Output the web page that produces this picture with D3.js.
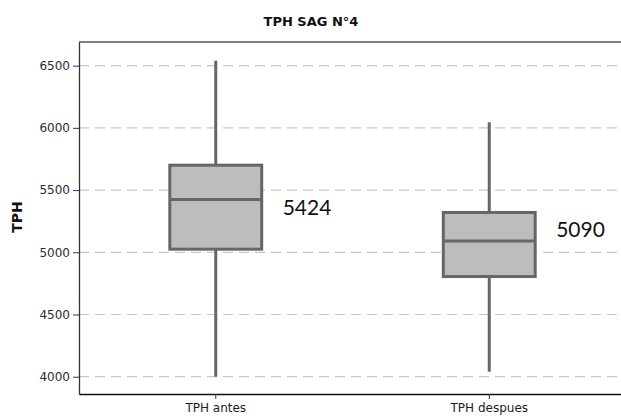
<!DOCTYPE html>
<html><head><meta charset="utf-8">
<script src="https://cdn.jsdelivr.net/npm/d3@7"></script>
<style>body{margin:0;background:#fff;} svg{display:block;}</style>
</head><body>
<svg id="c" width="621" height="416"></svg>
<script>
const categories = ["TPH antes", "TPH despues"];
const whiskerLow = [4000, 4040];
const q1 = [5025, 4805];
const median = [5424, 5090];
const q3 = [5700, 5320];
const whiskerHigh = [6540, 6045];
const labelValues = ["5424", "5090"];
const labelAt = [5355, 5185];
const yTicks = [4000, 4500, 5000, 5500, 6000, 6500];

const svg = d3.select("#c");
const m = {left: 79, top: 42, right: 626, bottom: 394};
const x = d3.scaleBand().domain(categories).range([m.left, m.right]).padding(0);
const y = d3.scaleLinear().domain([3861, 6690]).range([m.bottom, m.top]);

// grid
svg.append("g").selectAll("line").data(yTicks).join("line")
  .attr("x1", m.left).attr("x2", m.right)
  .attr("y1", d => y(d)).attr("y2", d => y(d))
  .attr("stroke", "#c8c8c8").attr("stroke-width", 1.2).attr("stroke-dasharray", "10,6");

// frame
svg.append("line").attr("x1", m.left).attr("x2", m.right).attr("y1", m.top).attr("y2", m.top)
  .attr("stroke", "#555").attr("stroke-width", 1.6);

// y axis
const ya = svg.append("g").attr("transform", `translate(${m.left},0)`)
  .call(d3.axisLeft(y).tickValues(yTicks).tickFormat(d3.format("d")).tickSize(6).tickPadding(3).tickSizeOuter(0));
ya.select(".domain").attr("stroke", "#333").attr("stroke-width", 1.3);
ya.selectAll(".tick line").attr("stroke", "#333");
ya.selectAll("text").attr("font-family", "DejaVu Sans").attr("font-size", 12).attr("fill", "#2a2a3a");

// x axis
const xa = svg.append("g").attr("transform", `translate(0,${m.bottom})`)
  .call(d3.axisBottom(x).tickSize(5).tickPadding(4).tickSizeOuter(0));
xa.select(".domain").attr("stroke", "#111").attr("stroke-width", 1.5);
xa.selectAll(".tick line").attr("stroke", "#333");
xa.selectAll("text").attr("font-family", "DejaVu Sans").attr("font-size", 12).attr("fill", "#1a1a2a");

const bw = x.bandwidth() * 0.336;
const g = svg.append("g");
categories.forEach((c, i) => {
  const cx = x(c) + x.bandwidth() / 2;
  g.append("line").attr("x1", cx).attr("x2", cx).attr("y1", y(whiskerLow[i])).attr("y2", y(q1[i]))
    .attr("stroke", "#666").attr("stroke-width", 3);
  g.append("line").attr("x1", cx).attr("x2", cx).attr("y1", y(q3[i])).attr("y2", y(whiskerHigh[i]))
    .attr("stroke", "#666").attr("stroke-width", 3);
  g.append("rect").attr("x", cx - bw / 2).attr("width", bw)
    .attr("y", y(q3[i])).attr("height", y(q1[i]) - y(q3[i]))
    .attr("fill", "#bdbdbd").attr("stroke", "#666").attr("stroke-width", 3);
  g.append("line").attr("x1", cx - bw / 2).attr("x2", cx + bw / 2).attr("y1", y(median[i])).attr("y2", y(median[i]))
    .attr("stroke", "#666").attr("stroke-width", 3);
  g.append("text").attr("x", cx + bw / 2 + 21).attr("y", y(labelAt[i]))
    .attr("dy", "0.35em").attr("font-family", "Lato").attr("font-size", 21)
    .attr("fill", "#111").text(labelValues[i]);
});

svg.append("text").attr("x", 311).attr("y", 26).attr("text-anchor", "middle")
  .attr("font-family", "DejaVu Sans").attr("font-weight", "bold").attr("font-size", 13)
  .attr("fill", "#111").text("TPH SAG N°4");

svg.append("text").attr("transform", "translate(22,217) rotate(-90)").attr("text-anchor", "middle")
  .attr("font-family", "DejaVu Sans").attr("font-weight", "bold").attr("font-size", 14)
  .attr("fill", "#111").text("TPH");
</script>
</body></html>
